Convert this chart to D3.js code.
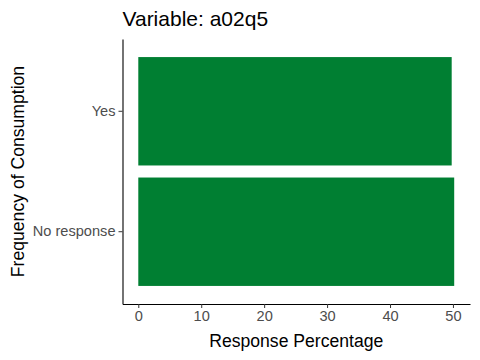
<!DOCTYPE html>
<html><head><meta charset="utf-8">
<script src="https://cdn.jsdelivr.net/npm/d3@7"></script>
<style>body{margin:0;background:#fff}svg{display:block}text{font-family:"Liberation Sans",Arial,sans-serif}</style>
</head><body><svg id="c" width="480" height="360"></svg>
<script>
const categories = ["No response", "Yes"];
const values = [50.2, 49.8];
const xTicks = [0, 10, 20, 30, 40, 50];
const titleText = "Variable: a02q5";

(function(){
const svg = d3.select("#c");
const pl = 122.5, pr = 470, pt = 39, pb = 304;
const maxV = d3.max(values);
const x = d3.scaleLinear().domain([-maxV*0.05, maxV*1.05]).range([pl, pr]);
const y = d3.scaleBand().domain(categories.slice().reverse()).range([pt, pb]).paddingInner(0.1).paddingOuter(0.15);

svg.selectAll("rect.bar").data(categories).join("rect")
  .attr("class","bar")
  .attr("x", x(0))
  .attr("y", d => y(d))
  .attr("width", (d,i) => x(values[i]) - x(0))
  .attr("height", y.bandwidth())
  .attr("fill", "#007f32");

const xAxis = svg.append("g").attr("transform", `translate(0,${pb})`)
  .call(d3.axisBottom(x).tickValues(xTicks).tickSize(4).tickPadding(3).tickSizeOuter(0));
xAxis.select(".domain").attr("stroke","#000").attr("stroke-width",1.1);
xAxis.selectAll(".tick line").attr("stroke","#333");
xAxis.selectAll("text").attr("fill","#4d4d4d").style("font-size","14.6px");

const yAxis = svg.append("g").attr("transform", `translate(${pl},0)`)
  .call(d3.axisLeft(y).tickSize(4).tickPadding(3).tickSizeOuter(0));
yAxis.select(".domain").attr("stroke","#000").attr("stroke-width",1.1);
yAxis.selectAll(".tick line").attr("stroke","#333");
yAxis.selectAll("text").attr("fill","#4d4d4d").style("font-size","14.6px");

svg.append("text").attr("x", pl).attr("y", 26).style("font-size","21px").attr("fill","#000").text(titleText);
svg.append("text").attr("x", (pl+pr)/2).attr("y", 346.5).attr("text-anchor","middle").style("font-size","17.6px").attr("fill","#000").text("Response Percentage");
svg.append("text").attr("transform", `translate(23.5,${(pt+pb)/2}) rotate(-90)`).attr("text-anchor","middle").style("font-size","17.6px").attr("fill","#000").text("Frequency of Consumption");
})();
</script></body></html>
